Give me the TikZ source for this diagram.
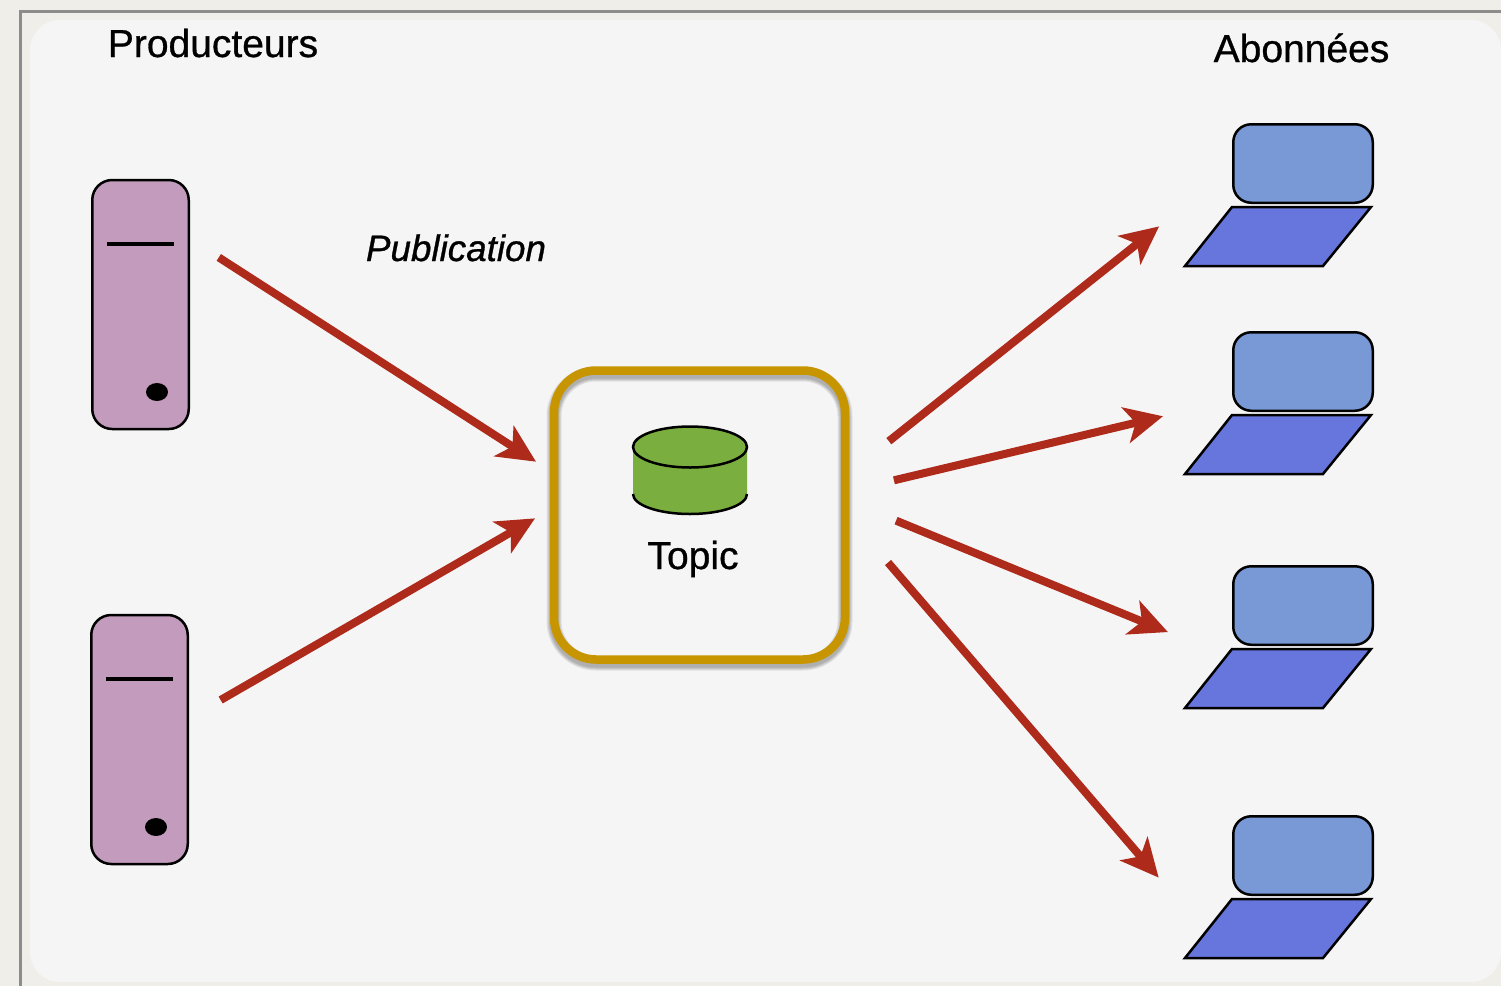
\documentclass[tikz,border=0pt]{standalone}
\usepackage{fontspec}
\setmainfont{Liberation Sans}[FakeBold=0.8]
\usepackage{tikz}
\usetikzlibrary{arrows.meta}
\usetikzlibrary{shapes.geometric}

\definecolor{pagecol}{HTML}{F0EEE9}
\definecolor{panelcol}{HTML}{F5F5F5}
\definecolor{framecol}{HTML}{8C8C8C}
\definecolor{servercol}{HTML}{C39BBD}
\definecolor{screencol}{HTML}{7899D6}
\definecolor{basecol}{HTML}{6776DD}
\definecolor{topiccol}{HTML}{C79500}
\definecolor{dbcol}{HTML}{7AAE3E}
\definecolor{flowcol}{HTML}{AE2A1B}

\begin{document}
\begin{tikzpicture}[
    x=1pt, y=-1pt,
    flow/.style={-{Stealth[length=38pt, width=36pt, inset=10pt]}, draw=flowcol, line width=8pt},
    server/.style={rectangle, rounded corners=20, draw=black, line width=2.5pt, fill=servercol, outer sep=0, minimum width=96.5, minimum height=249},
    led/.style={ellipse, fill=black, inner sep=0, minimum width=22, minimum height=18},
    laptop/.style={rectangle, outer sep=0, inner sep=0, minimum width=189, minimum height=142},
    screen/.style={rectangle, rounded corners=18, draw=black, line width=2.5pt, fill=screencol, outer sep=0, minimum width=139.5, minimum height=78.5},
    keyboard/.style={draw=black, line width=2.5pt, fill=basecol},
    topicbox/.style={rectangle, rounded corners=42, draw=topiccol, line width=8.5pt, outer sep=0, minimum width=291, minimum height=289},
    db/.style={ellipse, draw=black, line width=2.5pt, fill=dbcol, outer sep=0, inner sep=0, minimum width=114, minimum height=41},
    title/.style={font=\fontsize{39}{39}\selectfont, anchor=base},
    ]

    \useasboundingbox (0,0) rectangle (1501,986);
    \fill [pagecol] (0,0) rectangle (1501,986);
    \draw [framecol, line width=3pt] (1501,11) -- (20,11) -- (20,986);
    \fill [panelcol, rounded corners=30] (30,20) rectangle (1501,982);

    \node (prodtitle) [title] at (213,57) {Producteurs};
    \node (subtitle) [title] at (1301.5,62) {Abonnées};
    \node (pubtitle) [title, font=\fontsize{36.8}{36.8}\selectfont\itshape] at (456,261) {Publication};

    \foreach \i/\x/\y in {1/92/180, 2/91/615} {
        \node (prod\i) [server] at (\x+48.5,\y+124.5) {};
        \draw [line width=4.5pt] (\x+15,\y+64) -- (\x+82,\y+64);
        \node (led\i) [led] at (\x+65,\y+212) {};
    }

    \foreach \i/\y in {1/124, 2/332, 3/566, 4/816} {
        \node (lap\i) [laptop] at (1278.5,\y+71) {};
        \node (screen\i) [screen] at (1303,\y+39.5) {};
        \draw [keyboard] (1232,\y+83) -- (1371,\y+83) -- (1323,\y+142) -- (1185,\y+142) -- cycle;
    }

    \foreach \w in {9, 11, 13, 15} {
        \draw [black, opacity=.08, line width=\w pt, rounded corners=42] (554,374) rectangle (845,663);
    }
    \node (topic) [topicbox] at (699.5,515) {};

    \path [fill=dbcol] (633,447) -- (633,494) arc [start angle=180, end angle=360, x radius=57pt, y radius=20pt] -- (747,447) -- cycle;
    \draw [line width=2.5pt] (633,494) arc [start angle=180, end angle=360, x radius=57pt, y radius=20pt];
    \node (store) [db] at (690,447) {};
    \node (topiclabel) [title] at (693,569) {Topic};

    \draw [flow, shorten <=35.7pt, shorten >=21.4pt] (prod1.54) -- (topic.164.5);
    \draw [flow, shorten <=38pt, shorten >=21.9pt] (prod2.23) -- (topic.177.7);
    \draw [flow, shorten <=56pt, shorten >=31.8pt] (topic.15.5) -- (lap1.187.4);
    \draw [flow, shorten <=50.3pt, shorten >=21.6pt] (topic.9.9) -- (lap2.185.2);
    \draw [flow, shorten <=55.2pt, shorten >=17.4pt] (topic.6.3) -- (lap3.181.2);
    \draw [flow, shorten <=66pt, shorten >=38.9pt] (topic.1.2) -- (lap4.192.1);
\end{tikzpicture}
\end{document}
